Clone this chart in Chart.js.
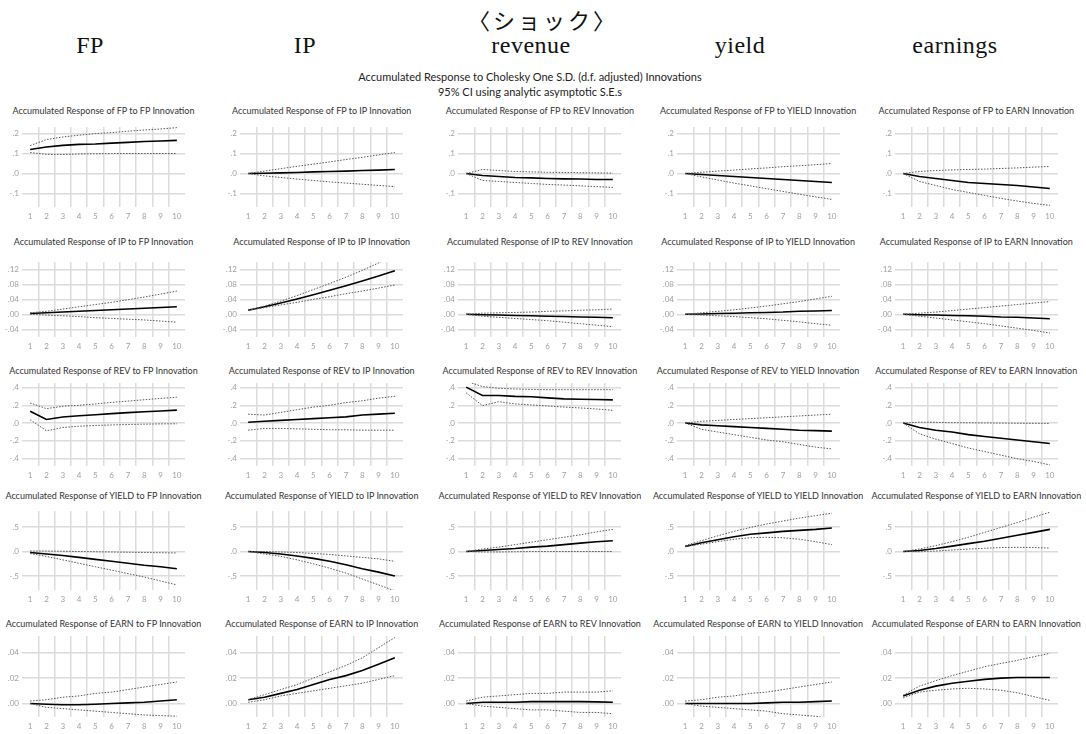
<!DOCTYPE html>
<html lang="ja">
<head>
<meta charset="UTF-8">
<title>Accumulated Response to Cholesky One S.D. Innovations</title>
<script src="https://cdn.jsdelivr.net/npm/chart.js"></script>
<style>
    body {
        margin: 0;
        width: 1086px;
        height: 734px;
        background: #fff;
        position: relative;
        overflow: hidden;
        font-family: Lato, 'Liberation Sans', sans-serif;
    }
    .shock {
        position: absolute;
        top: 3px;
        left: 0;
        width: 1086px;
        text-align: center;
        font-family: 'Liberation Serif', 'Noto Sans CJK JP', serif;
        font-size: 22px;
        letter-spacing: 3px;
        color: #111;
    }
    .head {
        position: absolute;
        top: 45px;
        transform: translate(-50%, -50%);
        font-family: 'Liberation Serif', serif;
        font-size: 24px;
        letter-spacing: 0.5px;
        color: #111;
        white-space: nowrap;
    }
    .sub {
        position: absolute;
        left: 0;
        width: 1060px;
        text-align: center;
        font-size: 11px;
        color: #222;
    }
    .ptitle {
        position: absolute;
        transform: translate(-50%, -50%);
        font-size: 9px;
        color: #333;
        white-space: nowrap;
    }
    canvas { position: absolute; }
</style>
</head>
<body>
<div class="shock">〈ショック〉</div>
<div class="sub" style="top:70px">Accumulated Response to Cholesky One S.D. (d.f. adjusted) Innovations</div>
<div class="sub" style="top:85px">95% CI using analytic asymptotic S.E.s</div>

<script>
    const horizons = ['1', '2', '3', '4', '5', '6', '7', '8', '9', '10'];
    const varNames = ['FP', 'IP', 'REV', 'YIELD', 'EARN'];
    const colHeads = ['FP', 'IP', 'revenue', 'yield', 'earnings'];

    // y tick values, axis range and decimals for each response row
    const rowTicks = [[-0.1, 0, 0.1, 0.2], [-0.04, 0, 0.04, 0.08, 0.12], [-0.4, -0.2, 0, 0.2, 0.4], [-0.5, 0, 0.5], [0, 0.02, 0.04]];
    const rowMin = [-0.168, -0.0605, -0.482, -0.784, -0.0106];
    const rowMax = [0.233, 0.1395, 0.45, 0.825, 0.0532];
    const rowDecimals = [1, 2, 1, 1, 2];

    // each panel: [response, upper band, lower band]
    const fp_fp = [[.12, .133, .141, .146, .148, .152, .156, .160, .163, .166], [.14, .17, .183, .192, .2, .205, .212, .218, .223, .23], [.105, .096, .095, .098, .099, .1, .1, .1, .1, .1]];
    const fp_ip = [[0, .001, .003, .005, .008, .01, .012, .015, .017, .02], [0, .012, .024, .036, .047, .058, .07, .081, .093, .105], [0, -.012, -.02, -.028, -.035, -.042, -.048, -.054, -.06, -.066]];
    const fp_rev = [[0, -.01, -.015, -.02, -.022, -.025, -.027, -.028, -.03, -.03], [0, .02, .015, .01, .008, .006, .005, .004, .003, .002], [0, -.035, -.04, -.045, -.05, -.055, -.058, -.062, -.066, -.07]];
    const fp_yield = [[0, -.005, -.01, -.015, -.02, -.025, -.03, -.035, -.04, -.045], [0, .006, .012, .017, .023, .028, .034, .039, .044, .05], [0, -.017, -.033, -.048, -.062, -.076, -.09, -.104, -.117, -.13]];
    const fp_earn = [[0, -.015, -.025, -.035, -.045, -.05, -.055, -.06, -.068, -.075], [0, .01, .015, .018, .02, .022, .025, .028, .032, .035], [0, -.04, -.06, -.08, -.095, -.11, -.125, -.138, -.15, -.16]];

    const ip_fp = [[.002, .004, .006, .008, .01, .012, .014, .016, .018, .02], [.004, .008, .014, .02, .026, .032, .039, .046, .054, .062], [0, -.002, -.004, -.006, -.009, -.011, -.013, -.015, -.018, -.021]];
    const ip_ip = [[.011, .02, .03, .041, .052, .064, .076, .089, .102, .116], [.011, .022, .035, .05, .066, .082, .099, .117, .137, .158], [.011, .018, .025, .032, .04, .047, .055, .062, .07, .078]];
    const ip_rev = [[0, -.001, -.002, -.003, -.004, -.005, -.006, -.007, -.008, -.009], [0, .003, .004, .005, .006, .008, .009, .011, .012, .014], [0, -.005, -.008, -.011, -.014, -.017, -.021, -.025, -.029, -.033]];
    const ip_yield = [[0, .001, .002, .003, .004, .005, .006, .008, .009, .01], [0, .004, .008, .012, .017, .022, .028, .034, .041, .048], [0, -.002, -.004, -.006, -.009, -.012, -.016, -.02, -.025, -.029]];
    const ip_earn = [[0, -.001, -.002, -.003, -.004, -.005, -.007, -.008, -.01, -.012], [0, .003, .006, .01, .014, .018, .022, .026, .03, .034], [0, -.005, -.01, -.015, -.02, -.025, -.031, -.037, -.043, -.05]];

    const rev_fp = [[.132, .04, .068, .083, .094, .106, .117, .128, .136, .145], [.226, .162, .189, .2, .215, .232, .247, .262, .277, .29], [.038, -.087, -.05, -.035, -.027, -.021, -.016, -.012, -.009, -.008]];
    const rev_ip = [[.01, .02, .03, .04, .05, .06, .07, .09, .1, .11], [.1, .09, .12, .15, .18, .2, .23, .25, .28, .3], [-.08, -.06, -.06, -.065, -.07, -.075, -.075, -.08, -.08, -.08]];
    const rev_rev = [[.404, .31, .31, .3, .295, .283, .272, .268, .264, .26], [.47, .41, .39, .383, .378, .375, .375, .375, .375, .375], [.34, .196, .24, .215, .204, .192, .18, .17, .158, .143]];
    const rev_yield = [[0, -.02, -.03, -.04, -.05, -.06, -.07, -.08, -.085, -.09], [0, .02, .03, .04, .05, .06, .07, .08, .09, .1], [0, -.07, -.1, -.13, -.16, -.19, -.21, -.24, -.27, -.29]];
    const rev_earn = [[0, -.05, -.08, -.1, -.13, -.15, -.17, -.19, -.21, -.23], [0, .01, .008, .005, .003, .002, 0, -.002, -.003, -.004], [0, -.12, -.18, -.23, -.28, -.32, -.36, -.4, -.43, -.47]];

    const yield_fp = [[-.02, -.05, -.08, -.12, -.16, -.2, -.24, -.28, -.31, -.35], [.01, .01, .005, 0, -.005, -.01, -.015, -.02, -.025, -.03], [-.04, -.1, -.17, -.24, -.31, -.38, -.45, -.52, -.6, -.68]];
    const yield_ip = [[0, -.02, -.05, -.09, -.14, -.2, -.27, -.35, -.42, -.5], [0, 0, -.01, -.02, -.04, -.06, -.09, -.12, -.15, -.2], [0, -.05, -.1, -.17, -.25, -.34, -.44, -.56, -.68, -.8]];
    const yield_rev = [[0, .02, .04, .06, .09, .11, .14, .17, .2, .22], [0, .05, .09, .14, .19, .24, .29, .34, .4, .45], [0, -.01, -.01, -.005, 0, 0, 0, 0, 0, 0]];
    const yield_yield = [[.1, .18, .24, .3, .35, .38, .41, .43, .45, .48], [.12, .22, .32, .41, .49, .56, .62, .68, .73, .78], [.1, .15, .2, .25, .28, .29, .28, .25, .2, .14]];
    const yield_earn = [[0, .02, .06, .11, .16, .21, .27, .33, .39, .45], [0, .05, .12, .2, .29, .39, .49, .59, .7, .8], [0, -.005, .01, .03, .05, .065, .08, .085, .08, .07]];

    const earn_fp = [[0, -.0005, -.001, -.001, -.0005, 0, .0005, .001, .002, .003], [.002, .003, .005, .006, .008, .009, .011, .013, .015, .017], [0, -.003, -.004, -.005, -.006, -.007, -.008, -.009, -.0095, -.01]];
    const earn_ip = [[.003, .005, .008, .011, .015, .019, .022, .026, .031, .036], [.003, .007, .011, .015, .02, .025, .03, .036, .044, .052], [.001, .003, .006, .008, .01, .012, .014, .016, .019, .022]];
    const earn_rev = [[0, .001, .001, .001, .0015, .0015, .0015, .0015, .0013, .001], [.002, .005, .006, .007, .008, .008, .009, .009, .009, .01], [0, -.002, -.003, -.004, -.005, -.005, -.006, -.007, -.007, -.008]];
    const earn_yield = [[0, 0, 0, 0, 0, .0005, .001, .001, .0015, .002], [.002, .003, .005, .006, .008, .009, .011, .013, .015, .017], [0, -.002, -.003, -.004, -.005, -.006, -.008, -.009, -.01, -.012]];
    const earn_earn = [[.006, .0105, .0137, .016, .0175, .019, .02, .0205, .0205, .0205], [.0066, .0137, .018, .022, .0255, .029, .0316, .034, .0368, .0395], [.0045, .009, .0105, .0115, .012, .0115, .0105, .0085, .0055, .0025]];

    const panels = [
        [fp_fp, fp_ip, fp_rev, fp_yield, fp_earn],
        [ip_fp, ip_ip, ip_rev, ip_yield, ip_earn],
        [rev_fp, rev_ip, rev_rev, rev_yield, rev_earn],
        [yield_fp, yield_ip, yield_rev, yield_yield, yield_earn],
        [earn_fp, earn_ip, earn_rev, earn_yield, earn_earn]
    ];

    // page layout
    const headX = [90, 305, 531, 740, 955];
    const plotLeft0 = 22, colStep = 218.2, plotW = 163;
    const rowTop = [127, 262, 383, 511, 636];
    const rowBottom = [207, 337, 466, 590, 717];
    const titleY = [110, 241, 370, 495, 623];
    const yAxisW = 24, padTop = 10, padRight = 6, xAxisH = 17;
    const tickFont = { family: 'Lato, "Liberation Sans", sans-serif', size: 8 };

    function fmt(v, d) {
        return Number(v).toFixed(d).replace(/^(-?)0\./, '$1.');
    }

    colHeads.forEach(function(h, i) {
        const el = document.createElement('div');
        el.className = 'head';
        el.style.left = headX[i] + 'px';
        el.textContent = h;
        document.body.appendChild(el);
    });

    for (let r = 0; r < 5; r++) {
        for (let c = 0; c < 5; c++) {
            const left = plotLeft0 + c * colStep;
            const t = document.createElement('div');
            t.className = 'ptitle';
            t.style.left = (left + plotW / 2) + 'px';
            t.style.top = titleY[r] + 'px';
            t.textContent = 'Accumulated Response of ' + varNames[r] + ' to ' + varNames[c] + ' Innovation';
            document.body.appendChild(t);

            const cv = document.createElement('canvas');
            const w = yAxisW + plotW + padRight;
            const h = padTop + (rowBottom[r] - rowTop[r]) + xAxisH;
            cv.width = w;
            cv.height = h;
            cv.style.width = w + 'px';
            cv.style.height = h + 'px';
            cv.style.left = (left - yAxisW) + 'px';
            cv.style.top = (rowTop[r] - padTop) + 'px';
            document.body.appendChild(cv);

            const p = panels[r][c];
            const ticks = rowTicks[r];
            const dec = rowDecimals[r];
            new Chart(cv, {
                type: 'line',
                data: {
                    labels: horizons,
                    datasets: [
                        { data: p[1], borderColor: '#555', borderWidth: 1, borderDash: [1.5, 1.5], pointRadius: 0 },
                        { data: p[2], borderColor: '#555', borderWidth: 1, borderDash: [1.5, 1.5], pointRadius: 0 },
                        { data: p[0], borderColor: '#000', borderWidth: 1.6, pointRadius: 0 }
                    ]
                },
                options: {
                    responsive: false,
                    animation: false,
                    devicePixelRatio: 1,
                    layout: { padding: { top: padTop, right: padRight, left: 0, bottom: 0 } },
                    plugins: { legend: { display: false }, tooltip: { enabled: false } },
                    scales: {
                        x: {
                            offset: true,
                            border: { display: false },
                            grid: {
                                offset: true,
                                drawTicks: false,
                                lineWidth: 1.5,
                                color: function(ctx) {
                                    return (ctx.index > 0 && ctx.index < horizons.length) ? '#dcdcdc' : 'rgba(0,0,0,0)';
                                }
                            },
                            ticks: { color: '#a0a0a0', font: tickFont, padding: 5, maxRotation: 0, autoSkip: false },
                            afterFit: function(s) { s.height = xAxisH; }
                        },
                        y: {
                            min: rowMin[r],
                            max: rowMax[r],
                            border: { display: false },
                            grid: { drawTicks: false, lineWidth: 1.5, color: '#dcdcdc' },
                            afterBuildTicks: function(s) { s.ticks = ticks.map(function(v) { return { value: v }; }); },
                            ticks: {
                                color: '#a0a0a0',
                                font: tickFont,
                                padding: 3,
                                callback: function(v) { return fmt(v, dec); }
                            },
                            afterFit: function(s) { s.width = yAxisW; }
                        }
                    }
                }
            });
        }
    }
</script>
</body>
</html>
